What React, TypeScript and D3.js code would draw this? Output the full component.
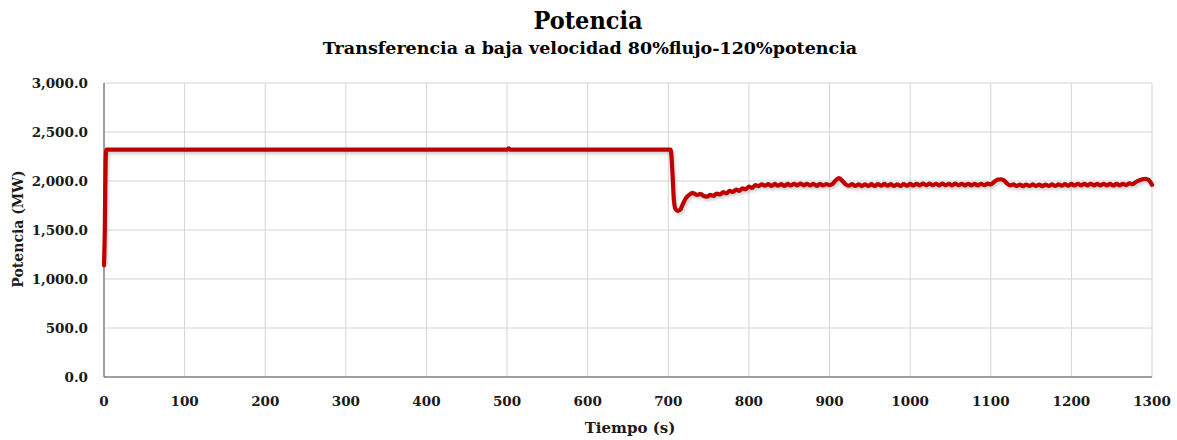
import React from "react";
import * as d3 from "d3";

const title = "Potencia";
const subtitle = "Transferencia a baja velocidad 80%flujo-120%potencia";
const xLabel = "Tiempo (s)";
const yLabel = "Potencia (MW)";

const xTicks = [0, 100, 200, 300, 400, 500, 600, 700, 800, 900, 1000, 1100, 1200, 1300];
const yTicks = [0, 500, 1000, 1500, 2000, 2500, 3000];

// [time s, power MW]
const startup: [number, number][] = [[0, 1140], [1, 1500], [2, 2200], [3, 2320]];
const plateau: [number, number][] = [[500, 2320], [502, 2332], [504, 2320], [703, 2320]];
const dropRecovery: [number, number][] = [
  [705, 2100], [707, 1800], [709, 1712], [712, 1696], [715, 1708], [718, 1765],
  [722, 1828], [727, 1866], [730, 1878],
];
const oscTimes = [
  732, 736, 740, 744, 748, 752, 756, 760, 764, 768, 772, 776, 780, 784, 788, 792, 796, 800,
  804, 808, 812, 816, 820, 824, 828, 832, 836, 840, 844, 848, 852, 856, 860, 864, 868, 872,
  876, 880, 884, 888, 892, 896, 900, 904, 908, 912, 916, 920, 924, 928, 932, 936, 940, 944,
  948, 952, 956, 960, 964, 968, 972, 976, 980, 984, 988, 992, 996, 1000, 1004, 1008, 1012,
  1016, 1020, 1024, 1028, 1032, 1036, 1040, 1044, 1048, 1052, 1056, 1060, 1064, 1068, 1072,
  1076, 1080, 1084, 1088, 1092, 1096, 1100, 1104, 1108, 1112, 1116, 1120, 1124, 1128, 1132,
  1136, 1140, 1144, 1148, 1152, 1156, 1160, 1164, 1168, 1172, 1176, 1180, 1184, 1188, 1192,
  1196, 1200, 1204, 1208, 1212, 1216, 1220, 1224, 1228, 1232, 1236, 1240, 1244, 1248, 1252,
  1256, 1260, 1264, 1268, 1272, 1276, 1280, 1284, 1288, 1292, 1296, 1300,
];
const oscValues = [
  1872, 1858, 1868, 1846, 1840, 1858, 1848, 1872, 1862, 1886, 1874, 1900, 1888, 1912, 1900, 1926, 1916, 1942,
  1930, 1958, 1948, 1966, 1952, 1968, 1950, 1970, 1952, 1968, 1950, 1970, 1954, 1972, 1956, 1974, 1956, 1972,
  1954, 1972, 1950, 1970, 1956, 1968, 1958, 1972, 2010, 2030, 2000, 1966, 1952, 1968, 1950, 1966, 1948, 1966,
  1950, 1968, 1950, 1968, 1952, 1970, 1952, 1968, 1950, 1966, 1950, 1968, 1952, 1970, 1954, 1972, 1956,
  1974, 1958, 1974, 1958, 1972, 1956, 1974, 1958, 1972, 1956, 1974, 1958, 1972, 1956, 1972,
  1956, 1970, 1956, 1972, 1958, 1974, 1966, 1990, 2012, 2018, 2010, 1976, 1956, 1966, 1950,
  1964, 1948, 1964, 1950, 1966, 1950, 1964, 1948, 1964, 1950, 1966, 1950, 1966, 1952, 1968,
  1952, 1970, 1954, 1972, 1956, 1970, 1956, 1972, 1956, 1970, 1956, 1972, 1956, 1970, 1954,
  1970, 1956, 1972, 1958, 1976, 1968, 1990, 2006, 2018, 2022, 2010, 1962,
];

const W = 1177;
const H = 440;
const FONT = "'DejaVu Serif', serif";
const FONT_C = "'DejaVu Serif Condensed', 'DejaVu Serif', serif";

export default function App() {
  const x = d3.scaleLinear().domain([0, 1300]).range([104, 1152]);
  const y = d3.scaleLinear().domain([0, 3000]).range([377, 83]);

  const oscillation: [number, number][] = oscTimes.map((t, i) => [t, oscValues[i]]);
  const data: [number, number][] = [...startup, ...plateau, ...dropRecovery, ...oscillation];

  const line = d3
    .line<[number, number]>()
    .x((d) => x(d[0]))
    .y((d) => y(d[1]))
    .curve(d3.curveMonotoneX);
  const path = line(data) || "";

  return (
    <svg
      width={W}
      height={H}
      style={{ position: "absolute", left: 0, top: 0, background: "#fff" }}
    >
      <defs>
        <filter id="shadow" x="-5%" y="-20%" width="110%" height="140%">
          <feGaussianBlur stdDeviation="1.6" />
        </filter>
      </defs>
      <rect x={0} y={0} width={W} height={H} fill="#fff" />
      {yTicks.map((t) => (
        <line key={"gy" + t} x1={x(0)} x2={x(1300)} y1={y(t)} y2={y(t)} stroke="#d4d4d4" strokeWidth={1} />
      ))}
      {xTicks.map((t) => (
        <line key={"gx" + t} x1={x(t)} x2={x(t)} y1={y(0)} y2={y(3000)} stroke="#d4d4d4" strokeWidth={1} />
      ))}
      <line x1={x(0)} x2={x(0)} y1={y(0)} y2={y(3000)} stroke="#868686" strokeWidth={1.5} />
      <line x1={x(0)} x2={x(1300)} y1={y(0)} y2={y(0)} stroke="#868686" strokeWidth={1.5} />
      <path
        d={path}
        fill="none"
        stroke="#9a9a9a"
        strokeOpacity={0.45}
        strokeWidth={4}
        transform="translate(1.5,2.5)"
        filter="url(#shadow)"
        strokeLinejoin="round"
      />
      <path d={path} fill="none" stroke="#c00000" strokeWidth={4.2} strokeLinejoin="round" strokeLinecap="round" />
      {yTicks.map((t) => (
        <text
          key={"ty" + t}
          x={88}
          y={y(t) + 5}
          textAnchor="end"
          fontFamily={FONT}
          fontWeight="bold"
          fontSize={13.5}
          fill="#1a1a1a"
        >
          {d3.format(",.1f")(t)}
        </text>
      ))}
      {xTicks.map((t) => (
        <text
          key={"tx" + t}
          x={x(t)}
          y={406}
          textAnchor="middle"
          fontFamily={FONT}
          fontWeight="bold"
          fontSize={13.5}
          fill="#1a1a1a"
        >
          {t}
        </text>
      ))}
      <text x={630} y={433} textAnchor="middle" fontFamily={FONT} fontWeight="bold" fontSize={15} fill="#1a1a1a">
        {xLabel}
      </text>
      <text
        transform="translate(23,229) rotate(-90)"
        textAnchor="middle"
        fontFamily={FONT}
        fontWeight="bold"
        fontSize={14}
        fill="#1a1a1a"
      >
        {yLabel}
      </text>
      <text x={588} y={29} textAnchor="middle" fontFamily={FONT_C} fontWeight="bold" fontSize={25} fill="#000">
        {title}
      </text>
      <text x={590} y={54} textAnchor="middle" fontFamily={FONT} fontWeight="bold" fontSize={17.5} fill="#000">
        {subtitle}
      </text>
    </svg>
  );
}
